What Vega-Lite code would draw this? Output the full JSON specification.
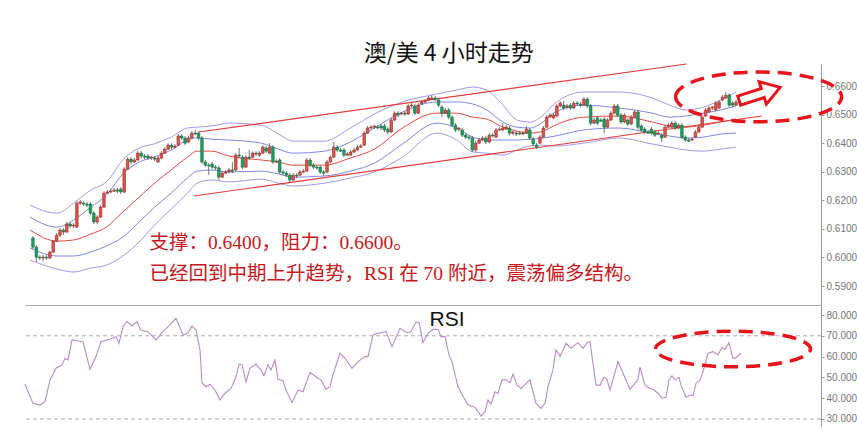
{
"$schema":"https://vega.github.io/schema/vega-lite/v6.json",
"background":"white",
"padding":{"left":22,"top":42,"right":0,"bottom":0},
"spacing":0,
"bounds":"flush",
"config":{"view":{"stroke":null},"axis":{"grid":false,"labelFont":"Liberation Sans","labelFontSize":10,"labelColor":"#777","domainColor":"#999","tickColor":"#999","tickSize":3,"labelPadding":2}},
"datasets":{
"candles":[
{"i":0,"o":0.6068,"c":0.6036,"h":0.6075,"l":0.6029},
{"i":1,"o":0.6036,"c":0.6001,"h":0.6043,"l":0.5984},
{"i":2,"o":0.6001,"c":0.5998,"h":0.6008,"l":0.5991},
{"i":3,"o":0.5998,"c":0.6001,"h":0.6008,"l":0.5987},
{"i":4,"o":0.6001,"c":0.5998,"h":0.6008,"l":0.5991},
{"i":5,"o":0.5998,"c":0.6019,"h":0.6022,"l":0.5994},
{"i":6,"o":0.6019,"c":0.6057,"h":0.6061,"l":0.6015},
{"i":7,"o":0.6057,"c":0.6078,"h":0.6085,"l":0.6054},
{"i":8,"o":0.6078,"c":0.6096,"h":0.6103,"l":0.6071},
{"i":9,"o":0.6096,"c":0.6089,"h":0.6103,"l":0.6078},
{"i":10,"o":0.6089,"c":0.6117,"h":0.6124,"l":0.6085},
{"i":11,"o":0.6117,"c":0.6110,"h":0.6124,"l":0.6103},
{"i":12,"o":0.6110,"c":0.6113,"h":0.6120,"l":0.6103},
{"i":13,"o":0.6106,"c":0.6190,"h":0.6197,"l":0.6103},
{"i":14,"o":0.6190,"c":0.6194,"h":0.6201,"l":0.6183},
{"i":15,"o":0.6190,"c":0.6187,"h":0.6197,"l":0.6180},
{"i":16,"o":0.6187,"c":0.6183,"h":0.6194,"l":0.6176},
{"i":17,"o":0.6187,"c":0.6155,"h":0.6194,"l":0.6148},
{"i":18,"o":0.6155,"c":0.6124,"h":0.6162,"l":0.6117},
{"i":19,"o":0.6124,"c":0.6141,"h":0.6148,"l":0.6117},
{"i":20,"o":0.6141,"c":0.6176,"h":0.6183,"l":0.6138},
{"i":21,"o":0.6176,"c":0.6225,"h":0.6232,"l":0.6173},
{"i":22,"o":0.6225,"c":0.6229,"h":0.6236,"l":0.6222},
{"i":23,"o":0.6229,"c":0.6232,"h":0.6239,"l":0.6225},
{"i":24,"o":0.6232,"c":0.6236,"h":0.6243,"l":0.6229},
{"i":25,"o":0.6236,"c":0.6232,"h":0.6243,"l":0.6225},
{"i":26,"o":0.6239,"c":0.6229,"h":0.6246,"l":0.6222},
{"i":27,"o":0.6229,"c":0.6309,"h":0.6316,"l":0.6225},
{"i":28,"o":0.6309,"c":0.6344,"h":0.6351,"l":0.6306},
{"i":29,"o":0.6344,"c":0.6334,"h":0.6351,"l":0.6327},
{"i":30,"o":0.6334,"c":0.6341,"h":0.6348,"l":0.6330},
{"i":31,"o":0.6341,"c":0.6365,"h":0.6372,"l":0.6337},
{"i":32,"o":0.6365,"c":0.6355,"h":0.6372,"l":0.6348},
{"i":33,"o":0.6355,"c":0.6351,"h":0.6362,"l":0.6344},
{"i":34,"o":0.6355,"c":0.6348,"h":0.6362,"l":0.6341},
{"i":35,"o":0.6348,"c":0.6351,"h":0.6355,"l":0.6341},
{"i":36,"o":0.6348,"c":0.6344,"h":0.6355,"l":0.6337},
{"i":37,"o":0.6334,"c":0.6348,"h":0.6355,"l":0.6330},
{"i":38,"o":0.6348,"c":0.6365,"h":0.6372,"l":0.6344},
{"i":39,"o":0.6365,"c":0.6379,"h":0.6386,"l":0.6362},
{"i":40,"o":0.6379,"c":0.6393,"h":0.6400,"l":0.6376},
{"i":41,"o":0.6393,"c":0.6386,"h":0.6400,"l":0.6379},
{"i":42,"o":0.6386,"c":0.6390,"h":0.6397,"l":0.6379},
{"i":43,"o":0.6393,"c":0.6425,"h":0.6432,"l":0.6390},
{"i":44,"o":0.6425,"c":0.6418,"h":0.6432,"l":0.6411},
{"i":45,"o":0.6418,"c":0.6400,"h":0.6425,"l":0.6393},
{"i":46,"o":0.6404,"c":0.6418,"h":0.6425,"l":0.6400},
{"i":47,"o":0.6418,"c":0.6435,"h":0.6442,"l":0.6414},
{"i":48,"o":0.6435,"c":0.6432,"h":0.6446,"l":0.6428},
{"i":49,"o":0.6435,"c":0.6418,"h":0.6442,"l":0.6411},
{"i":50,"o":0.6418,"c":0.6334,"h":0.6425,"l":0.6327},
{"i":51,"o":0.6334,"c":0.6323,"h":0.6341,"l":0.6316},
{"i":52,"o":0.6323,"c":0.6320,"h":0.6330,"l":0.6288},
{"i":53,"o":0.6327,"c":0.6316,"h":0.6334,"l":0.6309},
{"i":54,"o":0.6316,"c":0.6313,"h":0.6323,"l":0.6306},
{"i":55,"o":0.6313,"c":0.6281,"h":0.6320,"l":0.6271},
{"i":56,"o":0.6281,"c":0.6295,"h":0.6302,"l":0.6278},
{"i":57,"o":0.6295,"c":0.6299,"h":0.6306,"l":0.6292},
{"i":58,"o":0.6299,"c":0.6306,"h":0.6313,"l":0.6295},
{"i":59,"o":0.6306,"c":0.6302,"h":0.6334,"l":0.6295},
{"i":60,"o":0.6306,"c":0.6358,"h":0.6365,"l":0.6302},
{"i":61,"o":0.6358,"c":0.6355,"h":0.6383,"l":0.6348},
{"i":62,"o":0.6351,"c":0.6316,"h":0.6358,"l":0.6309},
{"i":63,"o":0.6316,"c":0.6351,"h":0.6358,"l":0.6313},
{"i":64,"o":0.6351,"c":0.6348,"h":0.6376,"l":0.6341},
{"i":65,"o":0.6351,"c":0.6365,"h":0.6372,"l":0.6348},
{"i":66,"o":0.6365,"c":0.6362,"h":0.6372,"l":0.6355},
{"i":67,"o":0.6358,"c":0.6365,"h":0.6372,"l":0.6351},
{"i":68,"o":0.6365,"c":0.6386,"h":0.6393,"l":0.6362},
{"i":69,"o":0.6383,"c":0.6372,"h":0.6390,"l":0.6365},
{"i":70,"o":0.6365,"c":0.6386,"h":0.6400,"l":0.6362},
{"i":71,"o":0.6386,"c":0.6334,"h":0.6393,"l":0.6327},
{"i":72,"o":0.6334,"c":0.6337,"h":0.6344,"l":0.6330},
{"i":73,"o":0.6341,"c":0.6299,"h":0.6348,"l":0.6292},
{"i":74,"o":0.6299,"c":0.6295,"h":0.6306,"l":0.6288},
{"i":75,"o":0.6295,"c":0.6288,"h":0.6302,"l":0.6281},
{"i":76,"o":0.6288,"c":0.6271,"h":0.6295,"l":0.6260},
{"i":77,"o":0.6271,"c":0.6288,"h":0.6295,"l":0.6267},
{"i":78,"o":0.6288,"c":0.6285,"h":0.6295,"l":0.6278},
{"i":79,"o":0.6288,"c":0.6299,"h":0.6306,"l":0.6285},
{"i":80,"o":0.6299,"c":0.6302,"h":0.6309,"l":0.6295},
{"i":81,"o":0.6302,"c":0.6341,"h":0.6348,"l":0.6299},
{"i":82,"o":0.6341,"c":0.6323,"h":0.6348,"l":0.6316},
{"i":83,"o":0.6323,"c":0.6316,"h":0.6330,"l":0.6309},
{"i":84,"o":0.6316,"c":0.6313,"h":0.6323,"l":0.6306},
{"i":85,"o":0.6316,"c":0.6299,"h":0.6323,"l":0.6292},
{"i":86,"o":0.6299,"c":0.6295,"h":0.6306,"l":0.6285},
{"i":87,"o":0.6299,"c":0.6334,"h":0.6341,"l":0.6295},
{"i":88,"o":0.6334,"c":0.6351,"h":0.6358,"l":0.6330},
{"i":89,"o":0.6351,"c":0.6386,"h":0.6404,"l":0.6348},
{"i":90,"o":0.6386,"c":0.6376,"h":0.6393,"l":0.6369},
{"i":91,"o":0.6376,"c":0.6372,"h":0.6383,"l":0.6369},
{"i":92,"o":0.6376,"c":0.6358,"h":0.6383,"l":0.6351},
{"i":93,"o":0.6358,"c":0.6362,"h":0.6369,"l":0.6355},
{"i":94,"o":0.6358,"c":0.6369,"h":0.6376,"l":0.6355},
{"i":95,"o":0.6369,"c":0.6376,"h":0.6383,"l":0.6365},
{"i":96,"o":0.6376,"c":0.6386,"h":0.6393,"l":0.6372},
{"i":97,"o":0.6386,"c":0.6390,"h":0.6397,"l":0.6383},
{"i":98,"o":0.6393,"c":0.6435,"h":0.6442,"l":0.6390},
{"i":99,"o":0.6435,"c":0.6453,"h":0.6460,"l":0.6432},
{"i":100,"o":0.6453,"c":0.6456,"h":0.6463,"l":0.6449},
{"i":101,"o":0.6456,"c":0.6460,"h":0.6463,"l":0.6449},
{"i":102,"o":0.6456,"c":0.6453,"h":0.6463,"l":0.6449},
{"i":103,"o":0.6460,"c":0.6453,"h":0.6467,"l":0.6446},
{"i":104,"o":0.6460,"c":0.6446,"h":0.6467,"l":0.6439},
{"i":105,"o":0.6449,"c":0.6439,"h":0.6456,"l":0.6432},
{"i":106,"o":0.6439,"c":0.6481,"h":0.6488,"l":0.6435},
{"i":107,"o":0.6481,"c":0.6505,"h":0.6512,"l":0.6477},
{"i":108,"o":0.6505,"c":0.6498,"h":0.6512,"l":0.6491},
{"i":109,"o":0.6502,"c":0.6505,"h":0.6509,"l":0.6498},
{"i":110,"o":0.6505,"c":0.6502,"h":0.6512,"l":0.6495},
{"i":111,"o":0.6502,"c":0.6530,"h":0.6537,"l":0.6498},
{"i":112,"o":0.6530,"c":0.6533,"h":0.6540,"l":0.6526},
{"i":113,"o":0.6530,"c":0.6505,"h":0.6537,"l":0.6498},
{"i":114,"o":0.6505,"c":0.6533,"h":0.6540,"l":0.6502},
{"i":115,"o":0.6537,"c":0.6544,"h":0.6551,"l":0.6533},
{"i":116,"o":0.6544,"c":0.6547,"h":0.6554,"l":0.6540},
{"i":117,"o":0.6551,"c":0.6558,"h":0.6565,"l":0.6547},
{"i":118,"o":0.6554,"c":0.6558,"h":0.6568,"l":0.6551},
{"i":119,"o":0.6558,"c":0.6554,"h":0.6565,"l":0.6547},
{"i":120,"o":0.6551,"c":0.6533,"h":0.6558,"l":0.6526},
{"i":121,"o":0.6526,"c":0.6505,"h":0.6533,"l":0.6491},
{"i":122,"o":0.6505,"c":0.6516,"h":0.6523,"l":0.6502},
{"i":123,"o":0.6516,"c":0.6491,"h":0.6523,"l":0.6484},
{"i":124,"o":0.6491,"c":0.6463,"h":0.6498,"l":0.6456},
{"i":125,"o":0.6463,"c":0.6446,"h":0.6470,"l":0.6439},
{"i":126,"o":0.6449,"c":0.6453,"h":0.6456,"l":0.6442},
{"i":127,"o":0.6446,"c":0.6428,"h":0.6453,"l":0.6421},
{"i":128,"o":0.6428,"c":0.6421,"h":0.6435,"l":0.6414},
{"i":129,"o":0.6421,"c":0.6418,"h":0.6428,"l":0.6411},
{"i":130,"o":0.6418,"c":0.6376,"h":0.6425,"l":0.6369},
{"i":131,"o":0.6376,"c":0.6400,"h":0.6407,"l":0.6369},
{"i":132,"o":0.6400,"c":0.6411,"h":0.6418,"l":0.6397},
{"i":133,"o":0.6411,"c":0.6418,"h":0.6425,"l":0.6407},
{"i":134,"o":0.6418,"c":0.6404,"h":0.6425,"l":0.6397},
{"i":135,"o":0.6404,"c":0.6428,"h":0.6435,"l":0.6400},
{"i":136,"o":0.6428,"c":0.6425,"h":0.6435,"l":0.6421},
{"i":137,"o":0.6421,"c":0.6446,"h":0.6453,"l":0.6418},
{"i":138,"o":0.6446,"c":0.6449,"h":0.6456,"l":0.6442},
{"i":139,"o":0.6446,"c":0.6453,"h":0.6470,"l":0.6442},
{"i":140,"o":0.6449,"c":0.6456,"h":0.6463,"l":0.6446},
{"i":141,"o":0.6453,"c":0.6435,"h":0.6460,"l":0.6428},
{"i":142,"o":0.6435,"c":0.6439,"h":0.6442,"l":0.6428},
{"i":143,"o":0.6435,"c":0.6432,"h":0.6442,"l":0.6425},
{"i":144,"o":0.6432,"c":0.6435,"h":0.6442,"l":0.6428},
{"i":145,"o":0.6435,"c":0.6432,"h":0.6442,"l":0.6428},
{"i":146,"o":0.6435,"c":0.6449,"h":0.6460,"l":0.6432},
{"i":147,"o":0.6446,"c":0.6418,"h":0.6453,"l":0.6411},
{"i":148,"o":0.6414,"c":0.6397,"h":0.6421,"l":0.6390},
{"i":149,"o":0.6393,"c":0.6386,"h":0.6400,"l":0.6379},
{"i":150,"o":0.6400,"c":0.6421,"h":0.6428,"l":0.6397},
{"i":151,"o":0.6421,"c":0.6453,"h":0.6460,"l":0.6418},
{"i":152,"o":0.6456,"c":0.6491,"h":0.6498,"l":0.6453},
{"i":153,"o":0.6491,"c":0.6498,"h":0.6505,"l":0.6491},
{"i":154,"o":0.6488,"c":0.6498,"h":0.6505,"l":0.6484},
{"i":155,"o":0.6495,"c":0.6530,"h":0.6537,"l":0.6491},
{"i":156,"o":0.6530,"c":0.6540,"h":0.6547,"l":0.6526},
{"i":157,"o":0.6533,"c":0.6523,"h":0.6547,"l":0.6516},
{"i":158,"o":0.6526,"c":0.6530,"h":0.6537,"l":0.6519},
{"i":159,"o":0.6533,"c":0.6523,"h":0.6540,"l":0.6516},
{"i":160,"o":0.6523,"c":0.6540,"h":0.6547,"l":0.6519},
{"i":161,"o":0.6540,"c":0.6537,"h":0.6547,"l":0.6530},
{"i":162,"o":0.6537,"c":0.6533,"h":0.6544,"l":0.6526},
{"i":163,"o":0.6533,"c":0.6554,"h":0.6561,"l":0.6530},
{"i":164,"o":0.6554,"c":0.6530,"h":0.6561,"l":0.6523},
{"i":165,"o":0.6530,"c":0.6470,"h":0.6537,"l":0.6463},
{"i":166,"o":0.6470,"c":0.6481,"h":0.6488,"l":0.6467},
{"i":167,"o":0.6488,"c":0.6470,"h":0.6495,"l":0.6463},
{"i":168,"o":0.6481,"c":0.6477,"h":0.6488,"l":0.6474},
{"i":169,"o":0.6484,"c":0.6456,"h":0.6491,"l":0.6435},
{"i":170,"o":0.6456,"c":0.6481,"h":0.6488,"l":0.6453},
{"i":171,"o":0.6481,"c":0.6505,"h":0.6512,"l":0.6477},
{"i":172,"o":0.6505,"c":0.6530,"h":0.6537,"l":0.6502},
{"i":173,"o":0.6530,"c":0.6498,"h":0.6537,"l":0.6491},
{"i":174,"o":0.6498,"c":0.6474,"h":0.6505,"l":0.6467},
{"i":175,"o":0.6474,"c":0.6498,"h":0.6505,"l":0.6470},
{"i":176,"o":0.6481,"c":0.6467,"h":0.6488,"l":0.6460},
{"i":177,"o":0.6467,"c":0.6491,"h":0.6498,"l":0.6463},
{"i":178,"o":0.6491,"c":0.6509,"h":0.6516,"l":0.6488},
{"i":179,"o":0.6509,"c":0.6456,"h":0.6516,"l":0.6449},
{"i":180,"o":0.6460,"c":0.6446,"h":0.6467,"l":0.6439},
{"i":181,"o":0.6449,"c":0.6439,"h":0.6456,"l":0.6432},
{"i":182,"o":0.6439,"c":0.6435,"h":0.6446,"l":0.6432},
{"i":183,"o":0.6449,"c":0.6435,"h":0.6456,"l":0.6428},
{"i":184,"o":0.6439,"c":0.6428,"h":0.6446,"l":0.6421},
{"i":185,"o":0.6432,"c":0.6435,"h":0.6442,"l":0.6428},
{"i":186,"o":0.6428,"c":0.6418,"h":0.6435,"l":0.6404},
{"i":187,"o":0.6421,"c":0.6456,"h":0.6463,"l":0.6418},
{"i":188,"o":0.6456,"c":0.6463,"h":0.6470,"l":0.6453},
{"i":189,"o":0.6456,"c":0.6470,"h":0.6477,"l":0.6453},
{"i":190,"o":0.6470,"c":0.6453,"h":0.6477,"l":0.6446},
{"i":191,"o":0.6453,"c":0.6463,"h":0.6470,"l":0.6449},
{"i":192,"o":0.6463,"c":0.6421,"h":0.6470,"l":0.6414},
{"i":193,"o":0.6421,"c":0.6411,"h":0.6428,"l":0.6404},
{"i":194,"o":0.6411,"c":0.6407,"h":0.6418,"l":0.6404},
{"i":195,"o":0.6411,"c":0.6414,"h":0.6421,"l":0.6407},
{"i":196,"o":0.6421,"c":0.6439,"h":0.6446,"l":0.6418},
{"i":197,"o":0.6439,"c":0.6456,"h":0.6463,"l":0.6435},
{"i":198,"o":0.6456,"c":0.6491,"h":0.6498,"l":0.6453},
{"i":199,"o":0.6495,"c":0.6516,"h":0.6523,"l":0.6491},
{"i":200,"o":0.6509,"c":0.6523,"h":0.6530,"l":0.6505},
{"i":201,"o":0.6523,"c":0.6526,"h":0.6530,"l":0.6516},
{"i":202,"o":0.6516,"c":0.6540,"h":0.6547,"l":0.6512},
{"i":203,"o":0.6523,"c":0.6544,"h":0.6551,"l":0.6519},
{"i":204,"o":0.6551,"c":0.6561,"h":0.6568,"l":0.6547},
{"i":205,"o":0.6558,"c":0.6568,"h":0.6579,"l":0.6554},
{"i":206,"o":0.6568,"c":0.6533,"h":0.6575,"l":0.6526},
{"i":207,"o":0.6540,"c":0.6533,"h":0.6547,"l":0.6526},
{"i":208,"o":0.6533,"c":0.6544,"h":0.6551,"l":0.6530}
],
"bands":[
{"i":-0.86,"ou":0.6183,"iu":0.6141,"m":0.6096,"il":0.6033,"ol":0.5991},
{"i":7.14,"ou":0.6155,"iu":0.6106,"m":0.6057,"il":0.6005,"ol":0.5959},
{"i":12.0,"ou":0.6190,"iu":0.6131,"m":0.6061,"il":0.6005,"ol":0.5949},
{"i":17.14,"ou":0.6236,"iu":0.6176,"m":0.6082,"il":0.6019,"ol":0.5963},
{"i":21.71,"ou":0.6264,"iu":0.6218,"m":0.6106,"il":0.6040,"ol":0.5973},
{"i":26.57,"ou":0.6341,"iu":0.6292,"m":0.6159,"il":0.6071,"ol":0.6005},
{"i":31.43,"ou":0.6383,"iu":0.6334,"m":0.6211,"il":0.6124,"ol":0.6054},
{"i":35.71,"ou":0.6397,"iu":0.6351,"m":0.6257,"il":0.6173,"ol":0.6110},
{"i":40.86,"ou":0.6421,"iu":0.6376,"m":0.6306,"il":0.6225,"ol":0.6169},
{"i":45.71,"ou":0.6453,"iu":0.6411,"m":0.6351,"il":0.6278,"ol":0.6225},
{"i":48.57,"ou":0.6456,"iu":0.6418,"m":0.6372,"il":0.6302,"ol":0.6260},
{"i":52.83,"ou":0.6460,"iu":0.6414,"m":0.6372,"il":0.6306,"ol":0.6271},
{"i":57.93,"ou":0.6470,"iu":0.6411,"m":0.6355,"il":0.6299,"ol":0.6264},
{"i":67.56,"ou":0.6463,"iu":0.6400,"m":0.6341,"il":0.6302,"ol":0.6274},
{"i":72.66,"ou":0.6432,"iu":0.6379,"m":0.6334,"il":0.6292,"ol":0.6260},
{"i":76.91,"ou":0.6407,"iu":0.6365,"m":0.6323,"il":0.6281,"ol":0.6250},
{"i":86.26,"ou":0.6407,"iu":0.6372,"m":0.6323,"il":0.6285,"ol":0.6260},
{"i":93.91,"ou":0.6453,"iu":0.6404,"m":0.6348,"il":0.6302,"ol":0.6278},
{"i":101.0,"ou":0.6502,"iu":0.6453,"m":0.6379,"il":0.6330,"ol":0.6299},
{"i":109.32,"ou":0.6544,"iu":0.6509,"m":0.6453,"il":0.6397,"ol":0.6351},
{"i":119.42,"ou":0.6572,"iu":0.6544,"m":0.6505,"il":0.6470,"ol":0.6435},
{"i":125.37,"ou":0.6586,"iu":0.6544,"m":0.6505,"il":0.6453,"ol":0.6411},
{"i":130.12,"ou":0.6596,"iu":0.6537,"m":0.6491,"il":0.6421,"ol":0.6369},
{"i":134.28,"ou":0.6586,"iu":0.6516,"m":0.6484,"il":0.6411,"ol":0.6365},
{"i":139.04,"ou":0.6533,"iu":0.6474,"m":0.6456,"il":0.6411,"ol":0.6358},
{"i":143.2,"ou":0.6481,"iu":0.6456,"m":0.6442,"il":0.6411,"ol":0.6376},
{"i":147.06,"ou":0.6474,"iu":0.6453,"m":0.6435,"il":0.6414,"ol":0.6390},
{"i":150.93,"ou":0.6498,"iu":0.6474,"m":0.6442,"il":0.6418,"ol":0.6393},
{"i":154.51,"ou":0.6540,"iu":0.6509,"m":0.6463,"il":0.6425,"ol":0.6390},
{"i":162.97,"ou":0.6579,"iu":0.6533,"m":0.6491,"il":0.6446,"ol":0.6400},
{"i":173.24,"ou":0.6579,"iu":0.6523,"m":0.6495,"il":0.6453,"ol":0.6418},
{"i":183.21,"ou":0.6558,"iu":0.6505,"m":0.6474,"il":0.6435,"ol":0.6397},
{"i":188.35,"ou":0.6533,"iu":0.6491,"m":0.6460,"il":0.6425,"ol":0.6386},
{"i":193.18,"ou":0.6516,"iu":0.6495,"m":0.6456,"il":0.6418,"ol":0.6376},
{"i":198.32,"ou":0.6526,"iu":0.6505,"m":0.6463,"il":0.6421,"ol":0.6372},
{"i":203.45,"ou":0.6551,"iu":0.6516,"m":0.6474,"il":0.6432,"ol":0.6379},
{"i":208.0,"ou":0.6579,"iu":0.6530,"m":0.6484,"il":0.6435,"ol":0.6386}
],
"channel":[
{"line":"upper","i":49.08,"p":0.6439},
{"line":"upper","i":193.4,"p":0.6677},
{"line":"lower","i":47.62,"p":0.6215},
{"line":"lower","i":215.6,"p":0.6495}
],
"notes":[
{"i":34.47,"p":0.6051,"t":"支撑：0.6400，阻力：0.6600。"},
{"i":34.47,"p":0.5942,"t":"已经回到中期上升趋势，RSI 在 70 附近，震荡偏多结构。"}
],
"titletext":[{"i":123.0,"p":0.6712,"t":"澳/美 4 小时走势"}],
"ring1":[{"i":214.7,"p":0.6562}],
"arrow":[{"i":215.0,"p":0.6572}],
"rsi":[
{"i":-0.88,"rsi":46.7},{"i":1.46,"rsi":37.5},{"i":3.51,"rsi":36.7},{"i":4.97,"rsi":38.3},{"i":6.43,"rsi":48.8},{"i":8.18,"rsi":54.4},{"i":9.93,"rsi":56},{"i":10.81,"rsi":59.2},{"i":11.69,"rsi":58.4},{"i":12.85,"rsi":68},{"i":14.61,"rsi":67.5},{"i":16.07,"rsi":67.2},{"i":18.11,"rsi":53.9},{"i":19.87,"rsi":60},{"i":21.33,"rsi":67.2},{"i":23.96,"rsi":68.3},{"i":25.71,"rsi":69.6},{"i":26.59,"rsi":66.4},{"i":27.75,"rsi":74.4},{"i":28.92,"rsi":76.8},{"i":30.38,"rsi":74.7},{"i":31.84,"rsi":76.8},{"i":33.01,"rsi":72.8},{"i":35.06,"rsi":72},{"i":37.39,"rsi":68},{"i":39.44,"rsi":72},{"i":41.48,"rsi":75.2},{"i":43.24,"rsi":78.4},{"i":45.28,"rsi":70.4},{"i":46.74,"rsi":71.2},{"i":47.91,"rsi":74.7},{"i":49.08,"rsi":72.8},{"i":50.25,"rsi":63.2},{"i":50.83,"rsi":47.2},{"i":52.0,"rsi":45.5},{"i":53.17,"rsi":46.7},{"i":54.63,"rsi":43.9},{"i":56.09,"rsi":39.1},{"i":57.55,"rsi":42.4},{"i":59.31,"rsi":44.7},{"i":60.77,"rsi":50.3},{"i":61.64,"rsi":56.4},{"i":62.52,"rsi":56},{"i":63.69,"rsi":47.9},{"i":64.86,"rsi":54.4},{"i":66.61,"rsi":56.4},{"i":68.07,"rsi":53.6},{"i":68.94,"rsi":50.8},{"i":70.11,"rsi":56},{"i":70.99,"rsi":53.6},{"i":72.16,"rsi":58.4},{"i":73.04,"rsi":49.1},{"i":74.5,"rsi":48.4},{"i":75.37,"rsi":43.9},{"i":77.13,"rsi":37.9},{"i":78.88,"rsi":43.9},{"i":80.34,"rsi":43.1},{"i":82.38,"rsi":52.4},{"i":84.72,"rsi":49.6},{"i":85.6,"rsi":48.8},{"i":87.06,"rsi":44.3},{"i":88.23,"rsi":45.5},{"i":89.1,"rsi":51.2},{"i":91.15,"rsi":61.6},{"i":92.61,"rsi":59.2},{"i":94.65,"rsi":54.4},{"i":96.41,"rsi":57.6},{"i":98.45,"rsi":60},{"i":99.33,"rsi":60},{"i":100.79,"rsi":70.4},{"i":102.25,"rsi":71.2},{"i":104.59,"rsi":72},{"i":106.34,"rsi":64.8},{"i":108.68,"rsi":73.6},{"i":110.72,"rsi":71.5},{"i":111.89,"rsi":72},{"i":113.35,"rsi":76.5},{"i":114.23,"rsi":76.5},{"i":115.4,"rsi":66.7},{"i":116.86,"rsi":71.2},{"i":118.32,"rsi":73.1},{"i":119.78,"rsi":73.1},{"i":120.65,"rsi":69.6},{"i":121.82,"rsi":69.6},{"i":122.99,"rsi":60.8},{"i":123.87,"rsi":57.6},{"i":125.62,"rsi":45.5},{"i":127.08,"rsi":41.1},{"i":128.54,"rsi":36.7},{"i":130.59,"rsi":35.6},{"i":132.34,"rsi":31.4},{"i":133.51,"rsi":33.5},{"i":134.38,"rsi":39.1},{"i":135.26,"rsi":37.2},{"i":136.43,"rsi":43.1},{"i":137.31,"rsi":42.4},{"i":138.47,"rsi":48.8},{"i":139.64,"rsi":48.8},{"i":140.81,"rsi":47.5},{"i":141.69,"rsi":51.6},{"i":142.86,"rsi":46.3},{"i":144.03,"rsi":44.7},{"i":146.65,"rsi":48.8},{"i":148.41,"rsi":37.5},{"i":149.87,"rsi":35.1},{"i":151.04,"rsi":37.5},{"i":151.91,"rsi":45.5},{"i":153.37,"rsi":53.6},{"i":154.25,"rsi":63.2},{"i":155.42,"rsi":60},{"i":157.17,"rsi":66.4},{"i":158.63,"rsi":64},{"i":160.68,"rsi":66.7},{"i":162.14,"rsi":64},{"i":163.31,"rsi":66.7},{"i":164.18,"rsi":67.2},{"i":165.94,"rsi":46.3},{"i":167.1,"rsi":46.3},{"i":168.27,"rsi":50},{"i":169.15,"rsi":49.1},{"i":170.03,"rsi":43.9},{"i":172.36,"rsi":57.6},{"i":173.83,"rsi":52},{"i":175.87,"rsi":44.3},{"i":177.33,"rsi":47.1},{"i":178.21,"rsi":49.1},{"i":178.79,"rsi":54.9},{"i":180.25,"rsi":46.3},{"i":181.71,"rsi":44.7},{"i":182.59,"rsi":44.3},{"i":184.05,"rsi":42.4},{"i":185.22,"rsi":40},{"i":186.39,"rsi":40.4},{"i":187.26,"rsi":48.8},{"i":188.14,"rsi":50.7},{"i":189.02,"rsi":48.8},{"i":190.19,"rsi":50},{"i":190.77,"rsi":46.3},{"i":192.23,"rsi":40.4},{"i":193.4,"rsi":41.5},{"i":194.27,"rsi":41.1},{"i":195.15,"rsi":47.1},{"i":196.32,"rsi":48.8},{"i":197.2,"rsi":52.7},{"i":198.66,"rsi":61.6},{"i":200.12,"rsi":62.4},{"i":201.58,"rsi":60.8},{"i":202.75,"rsi":64.5},{"i":203.62,"rsi":63.5},{"i":204.79,"rsi":66.7},{"i":205.96,"rsi":59.2},{"i":206.84,"rsi":59.5},{"i":208.3,"rsi":61.6}
],
"levels":[{"rsi":70},{"rsi":30}],
"rsilabel":[{"i":122.4,"rsi":77.8,"t":"RSI"}],
"ring2":[{"i":205.96,"rsi":63.65}]
},
"vconcat":[
{
"width":796,"height":241,
"layer":[
{"data":{"name":"bands"},"mark":{"type":"line","color":"#a497e8","strokeWidth":1,"interpolate":"monotone"},
"encoding":{"x":{"field":"i","type":"quantitative","title":null,"scale":{"domain":[-0.876,231.67],"nice":false,"zero":false},"axis":{"orient":"bottom","labels":false,"ticks":false,"domainColor":"#aaa"}},
"y":{"field":"ou","type":"quantitative","title":null,"scale":{"domain":[0.58335,0.6677],"nice":false,"zero":false},"axis":{"orient":"right","values":[0.59,0.6,0.61,0.62,0.63,0.64,0.65,0.66],"tickCount":20,"format":".4f","domainColor":"#999","labelOverlap":false,"labelBound":false}}}},
{"data":{"name":"bands"},"mark":{"type":"line","color":"#7f86e3","strokeWidth":1,"interpolate":"monotone"},
"encoding":{"x":{"field":"i","type":"quantitative","title":null},"y":{"field":"iu","type":"quantitative","title":null}}},
{"data":{"name":"bands"},"mark":{"type":"line","color":"#e3493f","strokeWidth":1,"interpolate":"monotone"},
"encoding":{"x":{"field":"i","type":"quantitative","title":null},"y":{"field":"m","type":"quantitative","title":null}}},
{"data":{"name":"bands"},"mark":{"type":"line","color":"#7f86e3","strokeWidth":1,"interpolate":"monotone"},
"encoding":{"x":{"field":"i","type":"quantitative","title":null},"y":{"field":"il","type":"quantitative","title":null}}},
{"data":{"name":"bands"},"mark":{"type":"line","color":"#a497e8","strokeWidth":1,"interpolate":"monotone"},
"encoding":{"x":{"field":"i","type":"quantitative","title":null},"y":{"field":"ol","type":"quantitative","title":null}}},
{"data":{"name":"channel"},"mark":{"type":"line","color":"#e23b3b","strokeWidth":1.2},
"encoding":{"x":{"field":"i","type":"quantitative","title":null},"y":{"field":"p","type":"quantitative","title":null},"detail":{"field":"line"}}},
{"data":{"name":"candles"},"mark":{"type":"rule","color":"#555","strokeWidth":0.8},
"encoding":{"x":{"field":"i","type":"quantitative","title":null},"y":{"field":"l","type":"quantitative","title":null},"y2":{"field":"h"}}},
{"data":{"name":"candles"},"mark":{"type":"bar","size":2.6,"strokeWidth":0.6},
"encoding":{"x":{"field":"i","type":"quantitative","title":null},"y":{"field":"o","type":"quantitative","title":null},"y2":{"field":"c"},
"fill":{"condition":{"test":"datum.c >= datum.o","value":"#e0524d"},"value":"#1f9e60"},
"stroke":{"condition":{"test":"datum.c >= datum.o","value":"#9b2a26"},"value":"#0e6b3c"}}},
{"data":{"name":"notes"},"mark":{"type":"text","align":"left","baseline":"middle","font":"Liberation Serif, Noto Sans CJK SC","fontSize":19.5,"color":"#c8161d"},
"encoding":{"x":{"field":"i","type":"quantitative","title":null},"y":{"field":"p","type":"quantitative","title":null},"text":{"field":"t"}}},
{"data":{"name":"titletext"},"mark":{"type":"text","align":"center","baseline":"middle","font":"Noto Sans CJK SC","fontSize":23,"color":"#111"},
"encoding":{"x":{"field":"i","type":"quantitative","title":null},"y":{"field":"p","type":"quantitative","title":null},"text":{"field":"t"}}},
{"data":{"name":"ring1"},"mark":{"type":"point","shape":"M-1,0 C-1,-0.1657 -0.5523,-0.3 0,-0.3 C0.5523,-0.3 1,-0.1657 1,0 C1,0.1657 0.5523,0.3 0,0.3 C-0.5523,0.3 -1,0.1657 -1,0 Z","size":27556,"filled":false,"stroke":"#e8141b","strokeWidth":3.5,"strokeDash":[14,8],"opacity":1},
"encoding":{"x":{"field":"i","type":"quantitative","title":null},"y":{"field":"p","type":"quantitative","title":null}}},
{"data":{"name":"arrow"},"mark":{"type":"point","shape":"M-1,-0.22 L0.15,-0.22 L0.15,-0.55 L1,0 L0.15,0.55 L0.15,0.22 L-1,0.22 Z","size":1850,"filled":true,"fill":"white","stroke":"#e8141b","strokeWidth":3,"angle":-18,"opacity":1},
"encoding":{"x":{"field":"i","type":"quantitative","title":null},"y":{"field":"p","type":"quantitative","title":null}}}
]
},
{
"width":796,"height":122,
"layer":[
{"data":{"name":"levels"},"mark":{"type":"rule","color":"#aaa","strokeWidth":1,"strokeDash":[4,3]},
"encoding":{"y":{"field":"rsi","type":"quantitative","title":null,"scale":{"domain":[26.15,84.81],"nice":false,"zero":false},"axis":{"orient":"right","values":[30,40,50,60,70,80],"tickCount":20,"format":".4f","domainColor":"#999","labelOverlap":false,"labelBound":false}}}},
{"data":{"name":"rsi"},"mark":{"type":"line","color":"#b98ac9","strokeWidth":1.1},
"encoding":{"x":{"field":"i","type":"quantitative","title":null,"scale":{"domain":[-0.876,231.67],"nice":false,"zero":false},"axis":{"orient":"bottom","labels":false,"ticks":false,"domainColor":"#999"}},"y":{"field":"rsi","type":"quantitative","title":null}}},
{"data":{"name":"rsilabel"},"mark":{"type":"text","align":"center","baseline":"middle","font":"Liberation Sans","fontSize":21,"color":"#111"},
"encoding":{"x":{"field":"i","type":"quantitative","title":null},"y":{"field":"rsi","type":"quantitative","title":null},"text":{"field":"t"}}},
{"data":{"name":"ring2"},"mark":{"type":"point","shape":"M-1,0 C-1,-0.127 -0.5523,-0.23 0,-0.23 C0.5523,-0.23 1,-0.127 1,0 C1,0.127 0.5523,0.23 0,0.23 C-0.5523,0.23 -1,0.127 -1,0 Z","size":24025,"filled":false,"stroke":"#e8141b","strokeWidth":3.5,"strokeDash":[14,8],"opacity":1},
"encoding":{"x":{"field":"i","type":"quantitative","title":null},"y":{"field":"rsi","type":"quantitative","title":null}}}
]
}
]
}
